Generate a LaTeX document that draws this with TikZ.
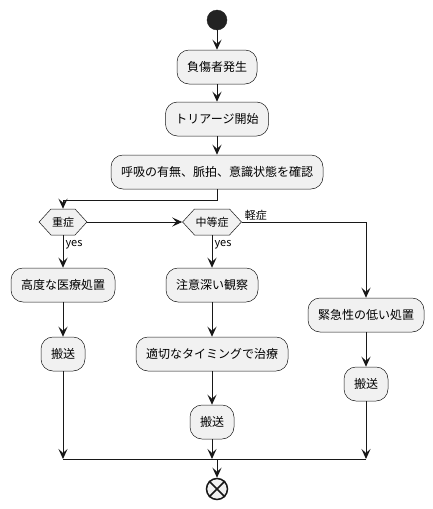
\documentclass[tikz,border=0pt]{standalone}
\usepackage{fontspec}
\setmainfont{Noto Sans CJK JP}
\usetikzlibrary{arrows.meta,shapes.symbols}
\definecolor{boxfill}{HTML}{F1F1F1}
\definecolor{ink}{HTML}{181818}
\definecolor{startfill}{HTML}{222222}
\begin{document}
\begin{tikzpicture}[x=1pt,y=-1pt,
  act/.style={draw=ink, fill=boxfill, rounded corners=12pt, minimum height=34pt,
    inner xsep=10pt, inner ysep=0pt, line width=0.5pt, text=black,
    font=\fontsize{12pt}{14pt}\selectfont},
  dec/.style={draw=ink, fill=boxfill, shape=signal, signal to=east and west,
    signal pointer angle=95, minimum height=26pt, inner xsep=1pt, inner ysep=0pt,
    line width=0.5pt, font=\fontsize{11pt}{13pt}\selectfont},
  flow/.style={draw=ink, line width=1pt, -{Stealth[length=10pt,width=9pt,inset=4pt]}},
  plain/.style={draw=ink, line width=1pt},
  lbl/.style={font=\fontsize{11pt}{13pt}\selectfont, inner sep=1pt, text=black}]
\useasboundingbox (0,0) rectangle (433,509);
% start
\node[circle, fill=startfill, draw=startfill, minimum size=20pt, inner sep=0pt] (start) at (217,20) {};
\node[act] (b1) at (217,67) {負傷者発生};
\node[act] (b2) at (217,119) {トリアージ開始};
\node[act] (b3) at (217,172) {呼吸の有無、脈拍、意識状態を確認};
\node[dec] (d1) at (63,222) {重症};
\node[dec] (d2) at (212,222) {中等症};
% left branch
\node[act] (l1) at (63,285) {高度な医療処置};
\node[act] (l2) at (63,354) {搬送};
% middle branch
\node[act] (m1) at (212,285) {注意深い観察};
\node[act] (m2) at (212,354) {適切なタイミングで治療};
\node[act] (m3) at (212,422) {搬送};
% right branch
\node[act] (r1) at (366,315) {緊急性の低い処置};
\node[act] (r2) at (366,384) {搬送};
% end
\node[circle, draw=ink, fill=boxfill, line width=1.5pt, minimum size=21pt, inner sep=0pt] (stop) at (217,489) {};
\draw[ink, line width=1.5pt] (stop.north east) -- (stop.south west) (stop.north west) -- (stop.south east);
% coordinates
\coordinate (split) at (217,200);
\coordinate (rturn) at (366,222);
\coordinate (ml) at (63,459);
\coordinate (mm) at (212,459);
\coordinate (mr) at (366,459);
\coordinate (mc) at (217,459);
% connectors
\draw[flow] (start) -- (b1);
\draw[flow] (b1) -- (b2);
\draw[flow] (b2) -- (b3);
\draw[flow] (b3.south) |- (split) -| (d1.north);
\draw[flow] (d1.east) -- (d2.west);
\draw[flow] (d2.east) -- (rturn) -- (r1.north);
\node[lbl, anchor=south west] at ([xshift=2pt]d2.east) {軽症};
\draw[flow] (d1.south) -- node[lbl, anchor=west, pos=0.3, xshift=1pt] {yes} (l1.north);
\draw[flow] (d2.south) -- node[lbl, anchor=west, pos=0.3, xshift=1pt] {yes} (m1.north);
\draw[flow] (l1) -- (l2);
\draw[flow] (m1) -- (m2);
\draw[flow] (m2) -- (m3);
\draw[flow] (r1) -- (r2);
\draw[flow] (l2) -- (ml);
\draw[flow] (m3) -- (mm);
\draw[flow] (r2) -- (mr);
\draw[plain] (ml) -- (mr);
\draw[flow] (mc) -- (stop);
\end{tikzpicture}
\end{document}
